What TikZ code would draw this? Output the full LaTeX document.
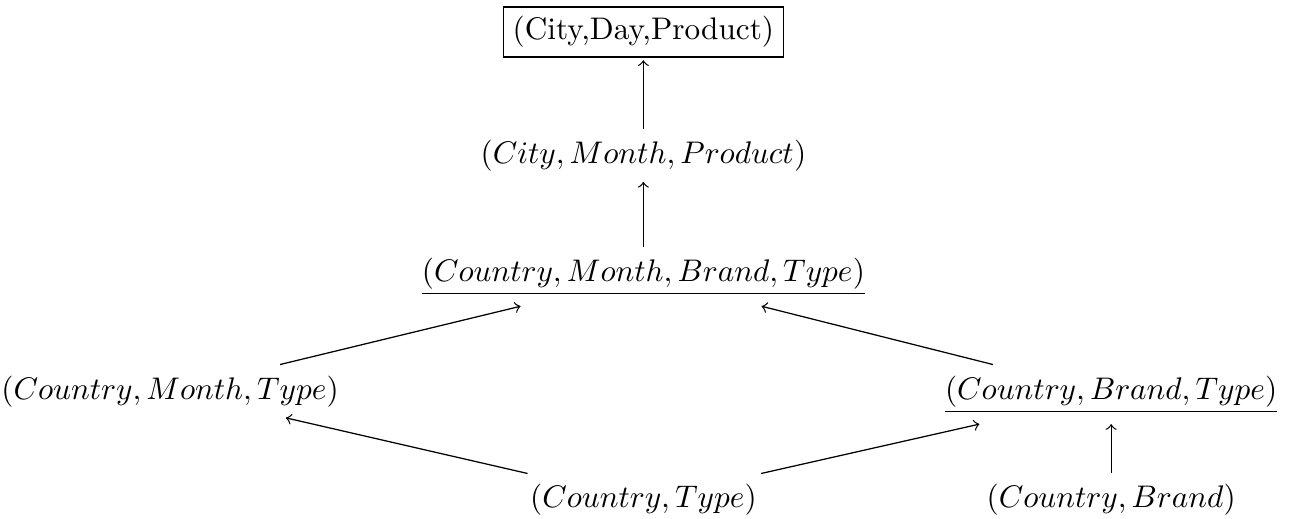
\documentclass[tikz,border=0pt]{standalone}
\usepackage{amsmath}
\usepackage{amssymb}

\begin{document}
\begin{tikzpicture}[x=0.84pt,y=0.84pt,yscale=-1,xscale=1,
  cuboid/.style={anchor=base},
  basecuboid/.style={anchor=base,draw,inner sep=3pt,outer sep=1pt},
  rollup/.style={->}]
\useasboundingbox (0,0) rectangle (492.2,197.4);

% Text Node
\node [basecuboid] (cdp) at (245.1,15.2) {(City,Day,Product)};
% Text Node
\node [cuboid] (cmp) at (245.1,62.1) {$(City, Month, Product)$};
% Text Node
\node [cuboid] (cmbt) at (245.1,107.1) {$\underline{(Country, Month, Brand, Type)}$};
% Text Node
\node [cuboid] (cmt) at (64.8,152) {$(Country, Month, Type)$};
% Text Node
\node [cuboid] (cbt) at (423.3,152) {$\underline{(Country, Brand, Type)}$};
% Text Node
\node [cuboid] (ct) at (245.1,193.5) {$(Country, Type)$};
% Text Node
\node [cuboid] (cb) at (423.3,193.5) {$(Country, Brand)$};

%Straight Lines
\draw [rollup] (cmp) -- (cdp);
\draw [rollup] (cmbt) -- (cmp);
\draw [rollup] (cmt) -- (cmbt);
\draw [rollup] (cbt) -- (cmbt);
\draw [rollup] (ct) -- (cmt);
\draw [rollup] (ct) -- (cbt);
\draw [rollup] (cb) -- (cbt);

\end{tikzpicture}
\end{document}
